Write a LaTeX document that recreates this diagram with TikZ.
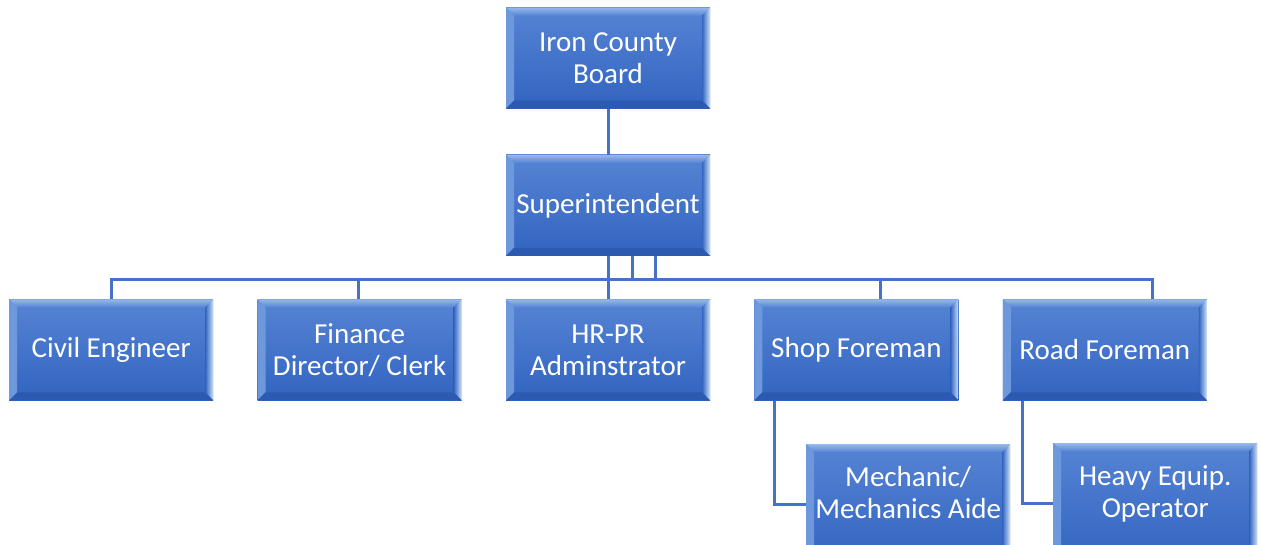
\documentclass[tikz,border=0pt]{standalone}
\usepackage{fontspec}
\setmainfont{Carlito}
\usetikzlibrary{positioning,calc}
\definecolor{boxtop}{RGB}{86,132,212}
\definecolor{boxbot}{RGB}{50,100,192}
\definecolor{bevtop}{RGB}{150,184,234}
\definecolor{bevleft}{RGB}{110,152,220}
\definecolor{bevright}{RGB}{205,225,248}
\definecolor{bevbot}{RGB}{44,90,176}
\definecolor{linkblue}{RGB}{68,114,196}

\begin{document}
\begin{tikzpicture}
  [
      x=1pt, y=1pt,
      unit/.style={rectangle, minimum width=204pt, minimum height=101pt, inner sep=0pt,
        text=white, font=\fontsize{29}{32}\selectfont, align=center,
        top color=boxtop, bottom color=boxbot,
        path picture={
          \path (path picture bounding box.north west) coordinate (p1)
                (path picture bounding box.north east) coordinate (p2)
                (path picture bounding box.south east) coordinate (p3)
                (path picture bounding box.south west) coordinate (p4);
          \shade[top color=bevtop, bottom color=boxtop] (p1) -- (p2) -- ($(p2)+(-8pt,-8pt)$) -- ($(p1)+(8pt,-8pt)$) -- cycle;
          \fill[bevleft] (p1) -- ($(p1)+(8pt,-8pt)$) -- ($(p4)+(8pt,8pt)$) -- (p4) -- cycle;
          \shade[left color=boxbot, right color=bevright] (p2) -- (p3) -- ($(p3)+(-8pt,8pt)$) -- ($(p2)+(-8pt,-8pt)$) -- cycle;
          \fill[bevbot] (p4) -- (p3) -- ($(p3)+(-8pt,8pt)$) -- ($(p4)+(8pt,8pt)$) -- cycle;
        }},
      cut unit/.style={unit, minimum height=120pt, text depth=24pt, anchor=north west},
      link/.style={draw=linkblue, line width=3pt},
    ]
  \useasboundingbox (0,0) rectangle (1261,-544);

    \node (board) [unit] at (608,-58) {Iron County\\Board};
    \node (sup) [unit, below=46pt of board] {Superintendent};

    \node (hr) [unit, below=43pt of sup] {HR-PR\\Adminstrator};
    \node (fin) [unit, left=44pt of hr] {Finance\\Director/ Clerk};
    \node (civ) [unit, left=44pt of fin] {Civil Engineer};
    \node (shop) [unit, right=44pt of hr] {Shop Foreman};
    \node (road) [unit, right=44pt of shop] {Road Foreman};

    \node (mech) [cut unit] at (806,-444) {Mechanic/\\Mechanics Aide};
    \node (heavy) [cut unit] at (1053,-443) {Heavy Equip.\\Operator};

      \draw [link] (board) -- (sup);
      \draw [link] ($(sup.south)+(47pt,0)$) -- ++(0,-23pt) -| (civ.north);
      \draw [link] ($(sup.south)+(24pt,0)$) -- ++(0,-23pt) -| ($(fin.north)+(-1pt,0)$);
      \draw [link] (sup.south) -- (hr.north);
      \draw [link] (sup.south) -- ++(0,-23pt) -| ($(shop.north)+(24pt,0)$);
      \draw [link] (sup.south) -- ++(0,-23pt) -| ($(road.north)+(48pt,0)$);
      \draw [link] ($(shop.south west)+(20pt,0)$) |- (mech.west);
      \draw [link] ($(road.south west)+(20pt,0)$) |- (heavy.west);

  \end{tikzpicture}
\end{document}
